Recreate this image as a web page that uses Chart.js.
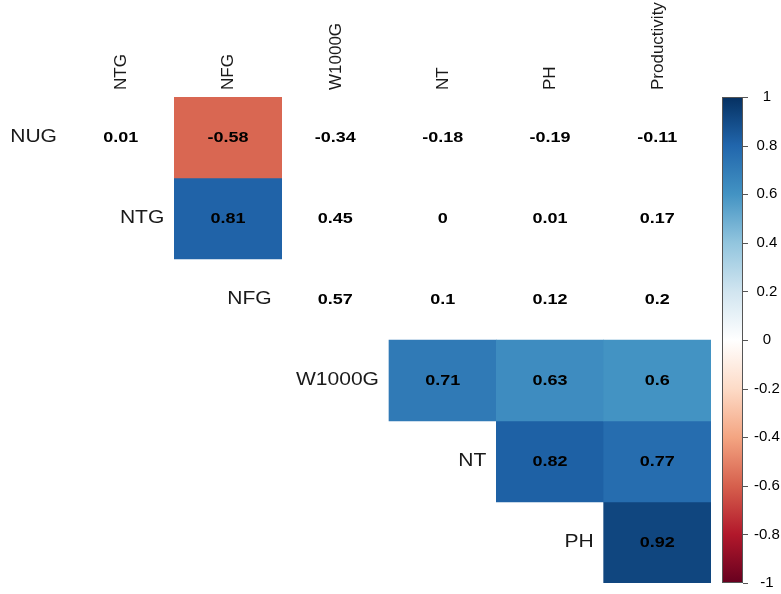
<!DOCTYPE html>
<html>
<head>
<meta charset="utf-8">
<script src="https://cdn.jsdelivr.net/npm/chart.js@4.4.0/dist/chart.umd.min.js"></script>
<style>
html, body { margin: 0; padding: 0; background: #fff; }
</style>
</head>
<body>
<canvas id="myChart" width="781" height="594"></canvas>
<script>
// variables on rows / columns of the upper triangle
var rowLabels = ['NUG', 'NTG', 'NFG', 'W1000G', 'NT', 'PH'];
var colLabels = ['NTG', 'NFG', 'W1000G', 'NT', 'PH', 'Productivity'];

// correlations, row i starts at column i
var corNUG = [0.01, -0.58, -0.34, -0.18, -0.19, -0.11];
var corNTG = [0.81, 0.45, 0, 0.01, 0.17];
var corNFG = [0.57, 0.1, 0.12, 0.2];
var corW1000G = [0.71, 0.63, 0.6];
var corNT = [0.82, 0.77];
var corPH = [0.92];

// significant cells get a coloured square, the rest stay blank
var sigNUG = [false, true, false, false, false, false];
var sigNTG = [true, false, false, false, false];
var sigNFG = [false, false, false, false];
var sigW1000G = [true, true, true];
var sigNT = [true, true];
var sigPH = [true];

var cors = [corNUG, corNTG, corNFG, corW1000G, corNT, corPH];
var sigs = [sigNUG, sigNTG, sigNFG, sigW1000G, sigNT, sigPH];

// RdBu ramp, from -1 to 1
var palette = ['#67001F', '#B2182B', '#D6604D', '#F4A582', '#FDDBC7', '#FFFFFF',
               '#D1E5F0', '#92C5DE', '#4393C3', '#2166AC', '#053061'];

function hexToRgb(h) {
    return [parseInt(h.substr(1, 2), 16), parseInt(h.substr(3, 2), 16), parseInt(h.substr(5, 2), 16)];
}

function corColor(v) {
    var t = (v + 1) / 2 * (palette.length - 1);
    var i = Math.min(Math.floor(t), palette.length - 2);
    var f = t - i;
    var a = hexToRgb(palette[i]);
    var b = hexToRgb(palette[i + 1]);
    var r = Math.round(a[0] + (b[0] - a[0]) * f);
    var g = Math.round(a[1] + (b[1] - a[1]) * f);
    var bl = Math.round(a[2] + (b[2] - a[2]) * f);
    return 'rgb(' + r + ',' + g + ',' + bl + ')';
}

var datasets = [];
for (var r = 0; r < rowLabels.length; r++) {
    var data = [];
    var colors = [];
    for (var c = 0; c < colLabels.length; c++) {
        var k = c - r;
        if (k >= 0 && sigs[r][k]) {
            data.push([r, r + 1]);
            colors.push(corColor(cors[r][k]));
        } else {
            data.push(null);
            colors.push('rgba(0,0,0,0)');
        }
    }
    datasets.push({
        label: rowLabels[r],
        data: data,
        backgroundColor: colors,
        borderWidth: 0,
        grouped: false,
        barPercentage: 1,
        categoryPercentage: 1
    });
}

function stretchedText(ctx, text, x, y, align, sx) {
    ctx.save();
    ctx.translate(x, y);
    ctx.scale(sx, 1);
    ctx.textAlign = align;
    ctx.fillText(text, 0, 0);
    ctx.restore();
}

var corrText = {
    id: 'corrText',
    afterDatasetsDraw: function (chart) {
        var ctx = chart.ctx;
        var xs = chart.scales.x;
        var ys = chart.scales.y;
        var half = (xs.getPixelForValue(1) - xs.getPixelForValue(0)) / 2;
        ctx.save();
        ctx.textBaseline = 'middle';
        for (var r = 0; r < rowLabels.length; r++) {
            var yc = ys.getPixelForValue(r + 0.5);
            ctx.font = 'bold 15px "Liberation Sans", Arial, sans-serif';
            ctx.fillStyle = '#000';
            for (var k = 0; k < cors[r].length; k++) {
                var xc = xs.getPixelForValue(r + k);
                stretchedText(ctx, String(cors[r][k]), xc, yc, 'center', 1.2);
            }
            ctx.font = '18px "Liberation Sans", Arial, sans-serif';
            ctx.fillStyle = '#1a1a1a';
            stretchedText(ctx, rowLabels[r], xs.getPixelForValue(r) - half - 10, yc, 'right', 1.17);
        }
        ctx.restore();
    },
    afterDraw: function (chart) {
        var ctx = chart.ctx;
        var cs = chart.scales.y2;
        var top = cs.getPixelForValue(1);
        var bottom = cs.getPixelForValue(-1);
        var x0 = cs.left + 11;
        var w = 21;
        var grad = ctx.createLinearGradient(0, bottom, 0, top);
        for (var i = 0; i < palette.length; i++) {
            grad.addColorStop(i / (palette.length - 1), palette[i]);
        }
        ctx.save();
        ctx.fillStyle = grad;
        ctx.fillRect(x0, top, w, bottom - top);
        ctx.strokeStyle = '#555';
        ctx.lineWidth = 1;
        ctx.strokeRect(x0 + 0.5, top + 0.5, w - 1, bottom - top - 1);
        cs.ticks.forEach(function (t) {
            var y = Math.round(cs.getPixelForValue(t.value)) + 0.5;
            ctx.beginPath();
            ctx.moveTo(x0 + w, y);
            ctx.lineTo(x0 + w + 5, y);
            ctx.stroke();
        });
        ctx.restore();
    }
};

var ctx = document.getElementById('myChart');
var myChart = new Chart(ctx, {
    type: 'bar',
    data: {
        labels: colLabels,
        datasets: datasets
    },
    options: {
        responsive: false,
        animation: false,
        devicePixelRatio: 1,
        layout: { padding: { left: 67, bottom: 11, top: 0, right: 0 } },
        plugins: {
            legend: { display: false },
            tooltip: { enabled: false }
        },
        scales: {
            x: {
                position: 'top',
                grid: { display: false, drawTicks: false },
                border: { display: false },
                ticks: {
                    minRotation: 90,
                    maxRotation: 90,
                    autoSkip: false,
                    padding: 7,
                    labelOffset: 21,
                    color: '#1a1a1a',
                    font: { family: '"Liberation Sans", Arial, sans-serif', size: 17 }
                },
                afterFit: function (s) { s.height = 97; }
            },
            y: {
                type: 'linear',
                min: 0,
                max: 6,
                reverse: true,
                display: false
            },
            y2: {
                type: 'linear',
                position: 'right',
                min: -1,
                max: 1,
                grid: { display: false, drawTicks: true, tickLength: 43 },
                border: { display: false },
                ticks: {
                    stepSize: 0.2,
                    crossAlign: 'center',
                    padding: 0,
                    color: '#000',
                    font: { family: '"Liberation Sans", Arial, sans-serif', size: 15 },
                    callback: function (v) { return String(parseFloat(v.toFixed(1))); }
                },
                afterFit: function (s) { s.width = 70; }
            }
        }
    },
    plugins: [corrText]
});
</script>
</body>
</html>
